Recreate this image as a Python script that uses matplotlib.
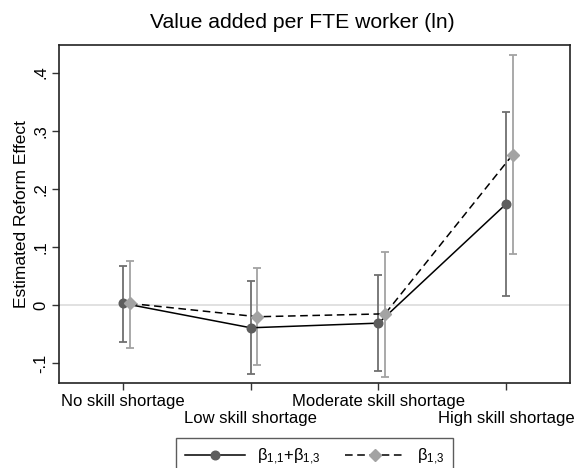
import matplotlib.pyplot as plt
import numpy as np

plt.rcParams["font.family"] = ["Liberation Sans", "DejaVu Sans"]

categories = ["No skill shortage", "Low skill shortage",
              "Moderate skill shortage", "High skill shortage"]

# beta_1,1 + beta_1,3
total_est = [0.003, -0.039, -0.031, 0.174]
total_lo = [-0.064, -0.119, -0.113, 0.016]
total_hi = [0.067, 0.042, 0.051, 0.332]

# beta_1,3
inter_est = [0.003, -0.020, -0.015, 0.259]
inter_lo = [-0.074, -0.103, -0.123, 0.088]
inter_hi = [0.076, 0.063, 0.092, 0.430]

DARK = "#5e5e5e"
DARK_CI = "#6f6f6f"
LIGHT = "#a3a3a3"


def main() -> None:
    fig = plt.figure(figsize=(5.79, 4.68), dpi=100)
    ax = fig.add_axes([0.1024, 0.1816, 0.882, 0.7229])

    x = np.arange(1, len(categories) + 1)
    x2 = x + 0.052

    ax.axhline(0, color="#dcdcdc", linewidth=1.2, zorder=0)

    ax.errorbar(x, total_est,
                yerr=[np.array(total_est) - np.array(total_lo),
                      np.array(total_hi) - np.array(total_est)],
                fmt="none", ecolor=DARK_CI, elinewidth=1.3, capsize=3, capthick=1.3, zorder=2)
    ax.errorbar(x2, inter_est,
                yerr=[np.array(inter_est) - np.array(inter_lo),
                      np.array(inter_hi) - np.array(inter_est)],
                fmt="none", ecolor=LIGHT, elinewidth=1.3, capsize=3, capthick=1.3, zorder=2)

    ax.plot(x, total_est, color="black", linewidth=1.1, linestyle="-",
            marker="o", markersize=6.2, markerfacecolor=DARK, markeredgecolor=DARK,
            zorder=3, label=r"$\mathregular{\beta_{1{,}1}}$+$\mathregular{\beta_{1{,}3}}$")
    ax.plot(x2, inter_est, color="black", linewidth=1.1, linestyle=(0, (5, 3)),
            marker="D", markersize=6.2, markerfacecolor=LIGHT, markeredgecolor=LIGHT,
            zorder=3, label=r"$\mathregular{\beta_{1{,}3}}$")

    ax.set_xlim(0.5, 4.5)
    ax.set_ylim(-0.134, 0.448)

    ax.set_xticks(x)
    ax.set_xticklabels(categories, fontsize=12)
    # staggered category labels, as in the original
    for i, tick in enumerate(ax.xaxis.get_major_ticks()):
        tick.set_pad(3 if i % 2 == 0 else 15.5)
    ax.set_yticks([-0.1, 0, 0.1, 0.2, 0.3, 0.4])
    ax.set_yticklabels(["-.1", "0", ".1", ".2", ".3", ".4"], rotation=90,
                       va="center", fontsize=12)
    ax.tick_params(axis="both", length=5, width=1, color="#333333")
    ax.tick_params(axis="y", pad=3)

    for spine in ax.spines.values():
        spine.set_linewidth(1.2)
        spine.set_color("#222222")

    ax.set_ylabel("Estimated Reform Effect", fontsize=12.5, labelpad=3)
    ax.set_title("Value added per FTE worker (ln)", fontsize=15.2, pad=12, x=0.475)

    fig.legend(loc="upper center", bbox_to_anchor=(0.543, 1 - 438 / 468), ncol=2,
               frameon=True, fancybox=False, edgecolor="#333333", fontsize=12,
               handlelength=3.6, handletextpad=0.7, columnspacing=1.5,
               borderpad=0.55, borderaxespad=0)

    fig.savefig("out.png", dpi=100)
    plt.close(fig)


if __name__ == "__main__":
    main()
